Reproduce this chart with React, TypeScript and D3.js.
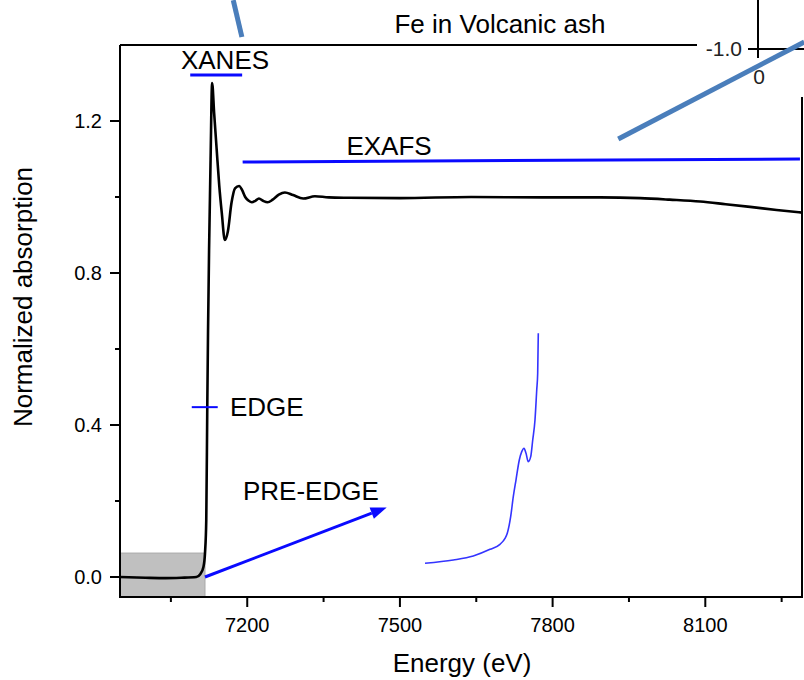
import React from "react";
import * as d3 from "d3";

// Main XAS spectrum (energy eV, normalized absorption)
const energy = [
  6950, 7000, 7040, 7070, 7100, 7108, 7114, 7117, 7119.5, 7121.5, 7123, 7125, 7128, 7131,
  7135, 7140, 7145, 7150, 7156, 7162, 7169, 7176, 7184, 7190, 7196, 7203, 7209, 7216,
  7223, 7231, 7240, 7250, 7262, 7274, 7290, 7310, 7333, 7360, 7400, 7500, 7640, 7780,
  7893, 7972, 8030, 8090, 8140, 8188, 8240, 8290,
];
const absorption = [
  0.0, -0.002, -0.003, -0.002, 0.0, 0.008, 0.027, 0.063, 0.15, 0.45, 0.65, 0.86, 1.1, 1.3,
  1.22, 1.124, 1.03, 0.958, 0.887, 0.91, 0.984, 1.023, 1.029, 1.018, 1.0, 0.99, 0.986, 0.99,
  0.996, 0.99, 0.986, 0.993, 1.006, 1.012, 1.005, 0.996, 1.002, 0.999, 0.998, 0.997, 1.0, 0.999,
  0.999, 0.997, 0.993, 0.988, 0.981, 0.974, 0.966, 0.959,
];

// Pre-edge inset curve
const insetEnergy = [
  7105.0, 7108.25, 7110.54, 7112.46, 7113.6, 7114.18, 7114.44, 7114.83, 7115.13, 7115.44,
  7115.82, 7116.1, 7116.36, 7116.59, 7116.85, 7117.13, 7117.36, 7117.62, 7117.82, 7117.93, 7118.0,
];
const insetMu = [
  0.02, 0.024, 0.0289, 0.037, 0.0431, 0.0504, 0.0565, 0.0767, 0.1011, 0.1214,
  0.1458, 0.1559, 0.16, 0.1539, 0.1437, 0.1498, 0.1701, 0.1945, 0.231, 0.2513, 0.3,
];

const xMajorTicks = [7200, 7500, 7800, 8100];
const xMinorTicks = [7050, 7350, 7650, 7950, 8250];
const yMajorTicks = [0.0, 0.4, 0.8, 1.2];
const yMinorTicks = [0.2, 0.6, 1.0];

// Annotations in data units
const xanesBar = [7088, 7190];
const xanesLevel = 1.321;
const exafsBarE = [7191, 8286];
const exafsBarV = [1.092, 1.1];
const edgeBar = [7091, 7142];
const edgeLevel = 0.447;
const preEdgeBoxE = [6950, 7117];
const preEdgeBoxV = 0.063;
const arrowFromE = 7117;
const arrowFromV = 0.0;
const arrowToE = 7474;
const arrowToV = 0.183;
const pointer1E = [7172.5, 7189.5];
const pointer1V = [1.518, 1.421];
const pointer2E = [7929, 8294.5];
const pointer2V = [1.1526, 1.408];

const FONT = "'Liberation Sans', Arial, sans-serif";

export default function App() {
  const W = 804;
  const H = 680;
  const left = 120, right = 802, top = 45, bottom = 597;
  const x = d3.scaleLinear().domain([6950, 8290]).range([left, right]);
  const y = d3.scaleLinear().domain([-0.0526, 1.4]).range([bottom, top]);

  const ix = d3.scaleLinear().domain([7105, 7118]).range([425, 538.3]);
  const iy = d3.scaleLinear().domain([0.02, 0.3]).range([563.3, 333.3]);

  const pts = energy.map((e, i) => [e, absorption[i]] as [number, number]);
  const line = d3
    .line<[number, number]>()
    .x((d) => x(d[0]))
    .y((d) => y(d[1]))
    .curve(d3.curveMonotoneX);

  const ipts = insetEnergy.map((e, i) => [e, insetMu[i]] as [number, number]);
  const iline = d3
    .line<[number, number]>()
    .x((d) => ix(d[0]))
    .y((d) => iy(d[1]))
    .curve(d3.curveMonotoneX);

  const blue = "#0a0aff";
  const steel = "#4a7ebb";

  // arrow geometry
  const ax1 = x(arrowFromE), ay1 = y(arrowFromV);
  const ax2 = x(arrowToE), ay2 = y(arrowToV);
  const ang = Math.atan2(ay2 - ay1, ax2 - ax1);
  const hl = 16, hw = 6;
  const bx = ax2 - hl * Math.cos(ang), by = ay2 - hl * Math.sin(ang);
  const head = [
    [ax2, ay2],
    [bx + hw * Math.sin(ang), by - hw * Math.cos(ang)],
    [bx - hw * Math.sin(ang), by + hw * Math.cos(ang)],
  ]
    .map((p) => p.join(","))
    .join(" ");

  return (
    <svg
      width={W}
      height={H}
      style={{ position: "absolute", left: 0, top: 0, background: "#fff" }}
      fontFamily={FONT}
    >
      <rect x={0} y={0} width={W} height={H} fill="#fff" />

      {/* pre-edge grey box */}
      <rect
        x={x(preEdgeBoxE[0])}
        y={y(preEdgeBoxV)}
        width={x(preEdgeBoxE[1]) - x(preEdgeBoxE[0])}
        height={bottom - y(preEdgeBoxV)}
        fill="#c0c0c0"
        stroke="#a8a8a8"
        strokeWidth={1}
      />

      {/* spectrum */}
      <path d={line(pts) || ""} fill="none" stroke="#000" strokeWidth={2.6} strokeLinejoin="round" />

      {/* inset pre-edge curve */}
      <path d={iline(ipts) || ""} fill="none" stroke="#3434ff" strokeWidth={1.6} />

      {/* axes frame */}
      <line x1={left} y1={top} x2={left} y2={bottom} stroke="#000" strokeWidth={2} />
      <line x1={left - 1} y1={bottom} x2={right + 1} y2={bottom} stroke="#000" strokeWidth={2} />
      <line x1={left} y1={top} x2={right} y2={top} stroke="#000" strokeWidth={2} />
      <line x1={right} y1={top} x2={right} y2={bottom} stroke="#000" strokeWidth={2} />

      {/* y ticks */}
      {yMajorTicks.map((t) => (
        <g key={"ym" + t}>
          <line x1={left - 10} x2={left} y1={y(t)} y2={y(t)} stroke="#000" strokeWidth={2} />
          <text x={102} y={y(t)} dy="0.35em" textAnchor="end" fontSize={20} fill="#000">
            {t.toFixed(1)}
          </text>
        </g>
      ))}
      {yMinorTicks.map((t) => (
        <line key={"yn" + t} x1={left - 5} x2={left} y1={y(t)} y2={y(t)} stroke="#000" strokeWidth={2} />
      ))}

      {/* x ticks */}
      {xMajorTicks.map((t) => (
        <g key={"xm" + t}>
          <line x1={x(t)} x2={x(t)} y1={bottom} y2={bottom + 10} stroke="#000" strokeWidth={2} />
          <text x={x(t)} y={632} textAnchor="middle" fontSize={20} fill="#000">
            {t}
          </text>
        </g>
      ))}
      {xMinorTicks.map((t) => (
        <line key={"xn" + t} x1={x(t)} x2={x(t)} y1={bottom} y2={bottom + 5} stroke="#000" strokeWidth={2} />
      ))}

      {/* axis titles */}
      <text x={462} y={672} textAnchor="middle" fontSize={26} fill="#000">
        Energy (eV)
      </text>
      <text
        transform="translate(32,297) rotate(-90)"
        textAnchor="middle"
        fontSize={26}
        fill="#000"
      >
        Normalized absorption
      </text>

      {/* title */}
      <text x={500} y={33} textAnchor="middle" fontSize={26} fill="#000">
        Fe in Volcanic ash
      </text>

      {/* XANES */}
      <line x1={x(xanesBar[0])} x2={x(xanesBar[1])} y1={y(xanesLevel)} y2={y(xanesLevel)} stroke={blue} strokeWidth={3} />
      <text x={225} y={69} textAnchor="middle" fontSize={26} fill="#000">
        XANES
      </text>

      {/* EXAFS */}
      <line
        x1={x(exafsBarE[0])}
        x2={x(exafsBarE[1])}
        y1={y(exafsBarV[0])}
        y2={y(exafsBarV[1])}
        stroke={blue}
        strokeWidth={3}
      />
      <text x={389} y={155} textAnchor="middle" fontSize={26} fill="#000">
        EXAFS
      </text>

      {/* EDGE */}
      <line x1={x(edgeBar[0])} x2={x(edgeBar[1])} y1={y(edgeLevel)} y2={y(edgeLevel)} stroke={blue} strokeWidth={2} />
      <text x={230} y={416} fontSize={26} fill="#000">
        EDGE
      </text>

      {/* PRE-EDGE */}
      <text x={243} y={500} fontSize={26} fill="#000">
        PRE-EDGE
      </text>
      <line x1={ax1} y1={ay1} x2={bx} y2={by} stroke={blue} strokeWidth={3} />
      <polygon points={head} fill={blue} />

      {/* top-right inset fragment */}
      <rect x={697} y={0} width={107} height={97} fill="#fff" />
      <line x1={758} x2={758} y1={0} y2={58} stroke="#000" strokeWidth={2} />
      <line x1={748} x2={804} y1={49} y2={49} stroke="#000" strokeWidth={2} />
      <text x={742} y={49} dy="0.35em" textAnchor="end" fontSize={21} fill="#222">
        -1.0
      </text>
      <text x={759} y={84} textAnchor="middle" fontSize={21} fill="#222">
        0
      </text>

      {/* steel-blue pointer lines */}
      <line
        x1={x(pointer1E[0])}
        y1={y(pointer1V[0])}
        x2={x(pointer1E[1])}
        y2={y(pointer1V[1])}
        stroke={steel}
        strokeWidth={5}
      />
      <line
        x1={x(pointer2E[0])}
        y1={y(pointer2V[0])}
        x2={x(pointer2E[1])}
        y2={y(pointer2V[1])}
        stroke={steel}
        strokeWidth={5}
      />
    </svg>
  );
}
